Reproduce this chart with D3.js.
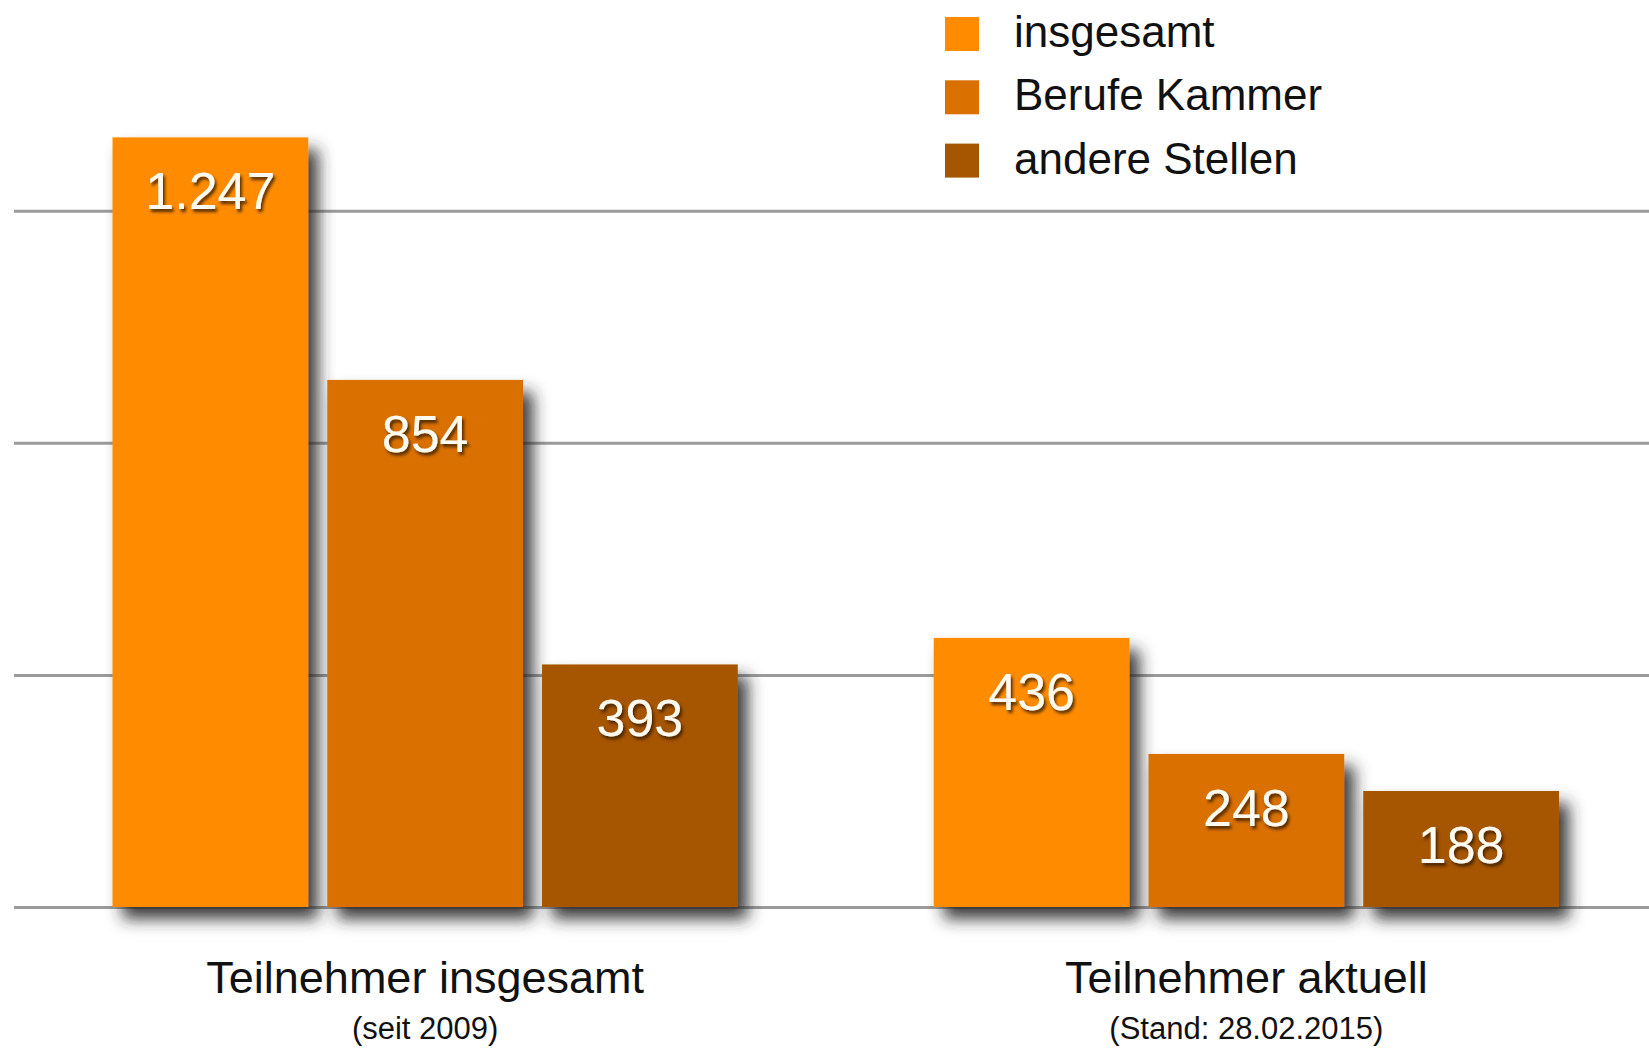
<!DOCTYPE html>
<html>
<head>
<meta charset="utf-8">
<script src="https://cdn.jsdelivr.net/npm/d3@7"></script>
<style>
  html, body { margin: 0; padding: 0; background: #fff; }
  svg { display: block; font-family: "Liberation Sans", Arial, Helvetica, sans-serif; }
</style>
</head>
<body>
<svg></svg>
<script>
document.addEventListener("DOMContentLoaded", function() {

    var width = 1649;
    var height = 1049;
    var baseline = 907;
    var pxPerUnit = 0.6172;

    var svg = d3.select('svg')
                .attr('width', width)
                .attr('height', height);

    // chart data
    var groups = ["Teilnehmer insgesamt", "Teilnehmer aktuell"];
    var groupNotes = ["(seit 2009)", "(Stand: 28.02.2015)"];
    var series = ["insgesamt", "Berufe Kammer", "andere Stellen"];
    var valuesTotal = [1247, 854, 393];
    var valuesCurrent = [436, 248, 188];
    var gridTicks = [0, 376, 752, 1128];

    var colors = {
        "insgesamt": "#FF8C00",
        "Berufe Kammer": "#D97000",
        "andere Stellen": "#A65500"
    };

    var rows = [valuesTotal, valuesCurrent].map(function(vals, gi) {
        return series.map(function(s, si) {
            return { group: groups[gi], series: s, value: vals[si] };
        });
    });

    // scales
    var x0 = d3.scaleBand()
               .domain(groups)
               .range([112.5, 1559])
               .paddingInner(0.2386)
               .paddingOuter(0);
    var x1 = d3.scaleBand()
               .domain(series)
               .range([0, x0.bandwidth()])
               .paddingInner(0.0885)
               .paddingOuter(0);
    var y = d3.scaleLinear()
              .domain([0, 1500])
              .range([baseline, baseline - 1500 * pxPerUnit]);

    var fmt = d3.formatLocale({ decimal: ",", thousands: ".", grouping: [3], currency: ["", "€"] }).format(",d");

    // filters for the soft shadows
    var defs = svg.append("defs");
    defs.append("filter")
        .attr("id", "barShadow")
        .attr("x", "-20%").attr("y", "-20%")
        .attr("width", "160%").attr("height", "160%")
      .append("feDropShadow")
        .attr("dx", 10).attr("dy", 12)
        .attr("stdDeviation", 8)
        .attr("flood-color", "#2a2a2a")
        .attr("flood-opacity", 0.9);
    defs.append("filter")
        .attr("id", "textShadow")
        .attr("x", "-20%").attr("y", "-30%")
        .attr("width", "150%").attr("height", "170%")
      .append("feDropShadow")
        .attr("dx", 2).attr("dy", 3)
        .attr("stdDeviation", 1.6)
        .attr("flood-color", "#3a1d00")
        .attr("flood-opacity", 0.85);

    // gridlines
    var yAxis = d3.axisLeft(y)
                  .tickValues(gridTicks)
                  .tickSize(-(width - 14))
                  .tickFormat("");
    var grid = svg.append("g")
                  .attr("transform", "translate(14,0)")
                  .call(yAxis);
    grid.select(".domain").remove();
    grid.selectAll(".tick line")
        .attr("stroke", "#9b9b9b")
        .attr("stroke-width", 3);

    // bars
    var groupG = svg.selectAll("g.group")
                    .data(rows)
                    .enter()
                    .append("g")
                    .attr("class", "group")
                    .attr("transform", d => `translate(${x0(d[0].group)},0)`);

    groupG.selectAll("rect")
          .data(d => d)
          .enter()
          .append("rect")
          .attr("x", d => x1(d.series))
          .attr("y", d => y(d.value))
          .attr("width", x1.bandwidth())
          .attr("height", d => y(0) - y(d.value))
          .attr("fill", d => colors[d.series])
          .attr("filter", "url(#barShadow)");

    groupG.selectAll("text.value")
          .data(d => d)
          .enter()
          .append("text")
          .attr("class", "value")
          .attr("x", d => x1(d.series) + x1.bandwidth() / 2)
          .attr("y", d => y(d.value) + 72)
          .attr("text-anchor", "middle")
          .attr("font-size", 52)
          .attr("fill", "#fffaf0")
          .attr("filter", "url(#textShadow)")
          .text(d => fmt(d.value));

    // category labels
    svg.selectAll("text.cat")
       .data(groups)
       .enter()
       .append("text")
       .attr("class", "cat")
       .attr("x", d => x0(d) + x0.bandwidth() / 2)
       .attr("y", 993)
       .attr("text-anchor", "middle")
       .attr("font-size", 45)
       .attr("fill", "#111")
       .text(d => d);

    svg.selectAll("text.note")
       .data(groupNotes)
       .enter()
       .append("text")
       .attr("class", "note")
       .attr("x", (d, i) => x0(groups[i]) + x0.bandwidth() / 2)
       .attr("y", 1039)
       .attr("text-anchor", "middle")
       .attr("font-size", 31)
       .attr("fill", "#111")
       .text(d => d);

    // legend
    var legend = svg.append("g")
                    .attr("transform", "translate(945,17)");
    var item = legend.selectAll("g")
                     .data(series)
                     .enter()
                     .append("g")
                     .attr("transform", (d, i) => `translate(0,${i * 63.3})`);
    item.append("rect")
        .attr("width", 34)
        .attr("height", 34)
        .attr("fill", d => colors[d]);
    item.append("text")
        .attr("x", 69)
        .attr("y", 30)
        .attr("font-size", 44)
        .attr("fill", "#111")
        .text(d => d);
});
</script>
</body>
</html>
